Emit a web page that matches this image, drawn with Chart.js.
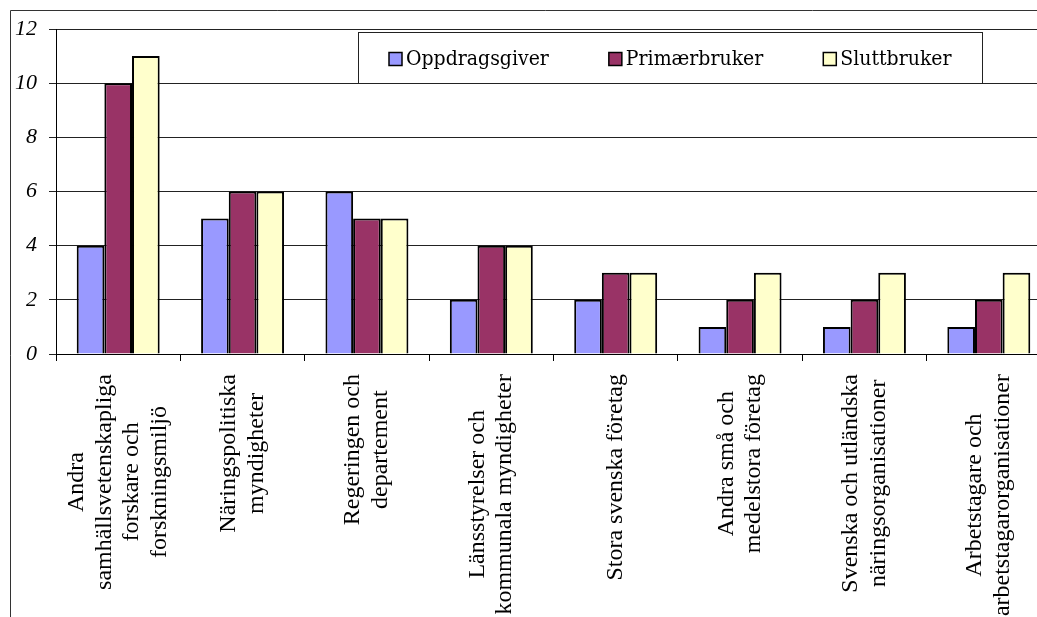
<!DOCTYPE html>
<html>
<head>
<meta charset="utf-8">
<script src="https://cdn.jsdelivr.net/npm/chart.js@4"></script>
<style>
  html, body { margin: 0; padding: 0; background: #fff; overflow: hidden; }
  #chart { position: absolute; left: 0; top: 0; }
</style>
</head>
<body>
<canvas id="chart" width="1080" height="700"></canvas>
<script>
const categories = [
    ["Andra", "samhällsvetenskapliga", "forskare och", "forskningsmiljö"],
    ["Näringspolitiska", "myndigheter"],
    ["Regeringen och", "departement"],
    ["Länsstyrelser och", "kommunala myndigheter"],
    ["Stora svenska företag"],
    ["Andra små och", "medelstora företag"],
    ["Svenska och utländska", "näringsorganisationer"],
    ["Arbetstagare och", "arbetstagarorganisationer"]
];
const seriesNames = ["Oppdragsgiver", "Primærbruker", "Sluttbruker"];
const oppdragsgiver = [4, 5, 6, 2, 2, 1, 1, 1];
const primaerbruker = [10, 6, 5, 4, 3, 2, 2, 2];
const sluttbruker = [11, 6, 5, 4, 3, 3, 3, 3];
const yTicks = [0, 2, 4, 6, 8, 10, 12];

const colors = ['#9999FF', '#993366', '#FFFFCC'];
const labelFont = '24px "Liberation Serif", serif';
const legendFont = '21px "DejaVu Serif Condensed", "DejaVu Serif", serif';

// outer frame (the picture is cropped on the right and bottom)
const framePlugin = {
    id: 'frame',
    beforeDraw(chart) {
        const ctx = chart.ctx;
        ctx.save();
        ctx.strokeStyle = '#333';
        ctx.lineWidth = 1;
        ctx.beginPath();
        ctx.moveTo(10.5, chart.height);
        ctx.lineTo(10.5, 10.5);
        ctx.lineTo(chart.width, 10.5);
        ctx.stroke();
        ctx.restore();
    }
};

// rotated, centred multi-line category labels
const catLabels = {
    id: 'catLabels',
    afterDraw(chart) {
        const ctx = chart.ctx;
        const xs = chart.scales.x;
        ctx.save();
        ctx.font = labelFont;
        ctx.fillStyle = '#000';
        ctx.textAlign = 'center';
        ctx.textBaseline = 'middle';
        chart.data.labels.forEach((lines, i) => {
            const x = xs.getPixelForValue(i);
            const w = Math.max(...lines.map(l => ctx.measureText(l).width));
            const cy = xs.top + 20 + w / 2;
            ctx.save();
            ctx.translate(x, cy);
            ctx.rotate(-Math.PI / 2);
            lines.forEach((l, j) => {
                ctx.fillText(l, 0, (j - (lines.length - 1) / 2) * 27.7);
            });
            ctx.restore();
        });
        ctx.restore();
    }
};

// boxed legend inside the plot
const boxLegend = {
    id: 'boxLegend',
    afterDraw(chart) {
        const ctx = chart.ctx;
        ctx.save();
        ctx.fillStyle = '#fff';
        ctx.fillRect(358, 32, 624, 51);
        ctx.strokeStyle = '#222';
        ctx.lineWidth = 1;
        ctx.strokeRect(358.5, 32.5, 624, 51);
        ctx.font = legendFont;
        ctx.textBaseline = 'middle';
        ctx.textAlign = 'left';
        let x = 389;
        chart.data.datasets.forEach(ds => {
            ctx.fillStyle = ds.backgroundColor;
            ctx.fillRect(x, 52.5, 13, 13);
            ctx.strokeStyle = '#000';
            ctx.lineWidth = 1.5;
            ctx.strokeRect(x, 52.5, 13, 13);
            ctx.fillStyle = '#000';
            ctx.fillText(ds.label, x + 17, 59.5);
            x += 17 + ctx.measureText(ds.label).width + 60;
        });
        ctx.restore();
    }
};

const values = [oppdragsgiver, primaerbruker, sluttbruker];

new Chart(document.getElementById('chart'), {
    type: 'bar',
    data: {
        labels: categories,
        datasets: seriesNames.map((name, i) => ({
            label: name,
            data: values[i],
            backgroundColor: colors[i],
            borderColor: '#000',
            borderWidth: 2,
            barPercentage: 1,
            categoryPercentage: 0.667
        }))
    },
    options: {
        responsive: false,
        animation: false,
        devicePixelRatio: 1,
        layout: { padding: { top: 29, left: 0, right: 29, bottom: 0 } },
        plugins: {
            legend: { display: false },
            tooltip: { enabled: false }
        },
        scales: {
            x: {
                grid: {
                    offset: true,
                    drawOnChartArea: false,
                    drawTicks: true,
                    tickLength: 7,
                    color: '#000'
                },
                border: { display: true, color: '#000', width: 1 },
                ticks: { display: false },
                afterFit: s => { s.height = 700 - 354; }
            },
            y: {
                min: 0,
                max: 12,
                afterBuildTicks: s => { s.ticks = yTicks.map(v => ({ value: v })); },
                grid: { color: '#222', tickLength: 7 },
                border: { display: true, color: '#000', width: 1 },
                ticks: {
                    color: '#000',
                    padding: 12,
                    font: { family: '"Liberation Serif", serif', style: 'italic', size: 22 }
                },
                afterFit: s => { s.width = 56; }
            }
        }
    },
    plugins: [framePlugin, catLabels, boxLegend]
});
</script>
</body>
</html>
